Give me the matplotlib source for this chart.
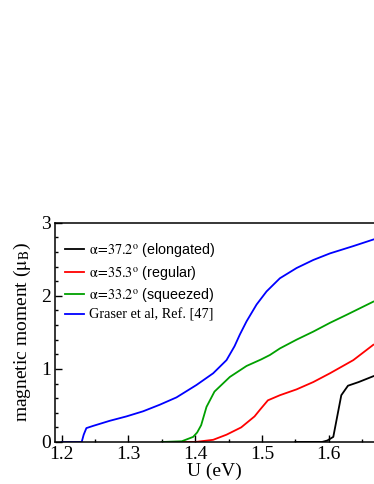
import matplotlib
matplotlib.use("Agg")
import matplotlib.pyplot as plt
from matplotlib.ticker import MultipleLocator

plt.rcParams['font.family'] = 'Liberation Serif'
plt.rcParams['mathtext.fontset'] = 'stix'

# alpha = 37.2 (elongated)
u_black = [1.55, 1.59, 1.598, 1.607, 1.619, 1.629, 1.645, 1.667]
m_black = [0.0, 0.0, 0.02, 0.07, 0.64, 0.77, 0.82, 0.90]

# alpha = 35.3 (regular)
u_red = [1.35, 1.40, 1.427, 1.447, 1.469, 1.489, 1.497, 1.509, 1.527, 1.552, 1.577, 1.602, 1.637, 1.667]
m_red = [0.0, 0.0, 0.03, 0.10, 0.20, 0.35, 0.44, 0.57, 0.64, 0.72, 0.82, 0.94, 1.12, 1.33]

# alpha = 33.2 (squeezed)
u_green = [1.35, 1.38, 1.397, 1.403, 1.409, 1.417, 1.429, 1.452, 1.477, 1.499, 1.512, 1.527,
           1.552, 1.577, 1.602, 1.627, 1.667]
m_green = [0.0, 0.01, 0.07, 0.13, 0.23, 0.48, 0.69, 0.89, 1.04, 1.13, 1.19, 1.28,
           1.40, 1.51, 1.63, 1.74, 1.92]

# Graser et al
u_blue = [1.20, 1.230, 1.233, 1.237, 1.247, 1.272, 1.297, 1.322, 1.347, 1.372, 1.402, 1.427,
          1.447, 1.459, 1.467, 1.477, 1.492, 1.507, 1.527, 1.552, 1.577, 1.602, 1.637, 1.667]
m_blue = [0.0, 0.0, 0.10, 0.19, 0.22, 0.29, 0.35, 0.42, 0.51, 0.61, 0.78, 0.94,
          1.12, 1.31, 1.47, 1.65, 1.88, 2.06, 2.24, 2.38, 2.49, 2.58, 2.68, 2.77]

labels = [r'$\mathrm{α}\!=\!37.2^{\rm o}$ (elongated)',
          r'$\mathrm{α}\!=\!35.3^{\rm o}$ (regular)',
          r'$\mathrm{α}\!=\!33.2^{\rm o}$ (squeezed)',
          'Graser et al, Ref. [47]']

fig = plt.figure(figsize=(3.74, 4.84), dpi=100)
ax = fig.add_axes([55 / 374, 42 / 484, 1 - 55 / 374, 219.3 / 484])

lw = 1.3
ax.plot(u_black, m_black, color='black', lw=lw, label=labels[0])
ax.plot(u_red, m_red, color='#ff0000', lw=lw, label=labels[1])
ax.plot(u_green, m_green, color='#00a000', lw=lw, label=labels[2])
ax.plot(u_blue, m_blue, color='#0000ff', lw=lw, label=labels[3])

ax.set_xlim(1.19, 1.668)
ax.set_ylim(0, 3)
ax.xaxis.set_major_locator(MultipleLocator(0.1))
ax.xaxis.set_minor_locator(MultipleLocator(0.05))
ax.yaxis.set_major_locator(MultipleLocator(1))
ax.yaxis.set_minor_locator(MultipleLocator(0.2))
ax.tick_params(which='both', direction='in', width=1, labelsize=14, pad=3)
ax.tick_params(which='major', length=5)
ax.tick_params(which='minor', length=2.5)
ax.spines['right'].set_visible(False)
for s in ['left', 'bottom', 'top']:
    ax.spines[s].set_linewidth(1.1)

ax.set_xlabel('U (eV)', fontsize=14, labelpad=0)
ax.set_ylabel(r'magnetic moment ($\mathrm{μ}_{\rm B}$)', fontsize=14, labelpad=6)

leg = ax.legend(loc='upper left', bbox_to_anchor=(0.0, 0.96), frameon=False,
                fontsize=10.3, handlelength=1.3, handletextpad=0.4, labelspacing=0.3,
                borderaxespad=0.3)
for t in leg.get_texts()[:3]:
    t.set_family('Liberation Sans')

fig.savefig('out.png', dpi=100)
